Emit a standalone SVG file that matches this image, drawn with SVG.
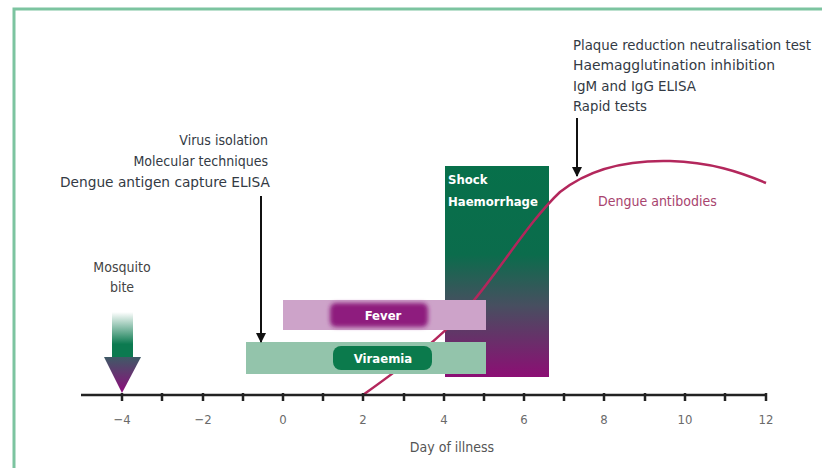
<svg xmlns="http://www.w3.org/2000/svg" width="822" height="468" viewBox="0 0 822 468">
<style>
.t{font-family:"DejaVu Sans Condensed","Liberation Sans",sans-serif;font-size:14px;fill:#333a44}
.ax{font-family:"DejaVu Sans Condensed","Liberation Sans",sans-serif;font-size:13px;fill:#6a6a6a;text-anchor:middle}
.w{font-family:"DejaVu Sans Condensed","Liberation Sans",sans-serif;font-size:13px;font-weight:bold;fill:#ffffff}
.tick{stroke:#222;stroke-width:2.5}
</style>
<defs>
<linearGradient id="shaft" x1="0" y1="0" x2="0" y2="1">
<stop offset="0" stop-color="#ffffff"/>
<stop offset="0.7" stop-color="#0c7a50"/>
<stop offset="1" stop-color="#0c7a50"/>
</linearGradient>
<linearGradient id="head" x1="0" y1="0" x2="0" y2="1">
<stop offset="0" stop-color="#3f5a66"/>
<stop offset="1" stop-color="#8e0c7c"/>
</linearGradient>
<linearGradient id="shock" x1="0" y1="0" x2="0" y2="1">
<stop offset="0" stop-color="#07704a"/>
<stop offset="0.42" stop-color="#0b6c4c"/>
<stop offset="0.66" stop-color="#474f60"/>
<stop offset="1" stop-color="#8c0e74"/>
</linearGradient>
<filter id="blur" x="-20%" y="-50%" width="140%" height="200%">
<feGaussianBlur stdDeviation="2.2"/>
</filter>
<marker id="ah" viewBox="0 0 10 10" refX="9" refY="5" markerWidth="5" markerHeight="5" orient="auto" markerUnits="strokeWidth">
<path d="M0,0 L10,5 L0,10 z" fill="#111"/>
</marker>
</defs>
<rect x="0" y="0" width="822" height="468" fill="#ffffff"/>
<path d="M14,468 L14,9 L822,9" fill="none" stroke="#7cc4a0" stroke-width="3"/>

<g id="shock-haemorrhage">
<rect x="445" y="166" width="104" height="211" fill="url(#shock)"/>
<text class="w" x="448" y="184">Shock</text>
<text class="w" x="448" y="206">Haemorrhage</text>
</g>

<g id="dengue-antibodies">
<path d="M363,395 C395,372 440,340 470,305 C500,270 530,220 560,192 C590,168 630,160 670,161 C710,162 740,172 766,183" fill="none" stroke="#b3275c" stroke-width="2.5"/>
<text x="598" y="206" style="font-family:'DejaVu Sans Condensed','Liberation Sans',sans-serif;font-size:14px;fill:#a8446e">Dengue antibodies</text>
</g>

<g id="fever">
<rect x="283" y="300" width="203" height="30" fill="#cda3c9"/>
<rect x="330" y="303" width="98" height="24" rx="6" fill="#8e1a7e" filter="url(#blur)"/>
<text class="w" x="383" y="320" text-anchor="middle">Fever</text>
</g>

<g id="viraemia">
<rect x="246" y="342" width="240" height="32" fill="#93c4ab"/>
<rect x="333" y="346" width="99" height="24" rx="8" fill="#0b7a4c"/>
<text class="w" x="383" y="363" text-anchor="middle">Viraemia</text>
</g>

<g id="mosquito-bite">
<text class="ax" x="122" y="272" style="fill:#444;font-size:14px">Mosquito</text>
<text class="ax" x="122" y="292" style="fill:#444;font-size:14px">bite</text>
<rect x="112" y="312" width="21" height="46" fill="url(#shaft)"/>
<polygon points="104,357 141,357 122,393" fill="url(#head)"/>
</g>

<g id="virus-tests">
<text class="t" x="268" y="145" text-anchor="end">Virus isolation</text>
<text class="t" x="268" y="166" text-anchor="end">Molecular techniques</text>
<text class="t" x="270" y="187" text-anchor="end" textLength="210" lengthAdjust="spacingAndGlyphs">Dengue antigen capture ELISA</text>
</g>

<g id="antibody-tests">
<text class="t" x="573" y="50" textLength="238" lengthAdjust="spacingAndGlyphs">Plaque reduction neutralisation test</text>
<text class="t" x="573" y="70" textLength="202" lengthAdjust="spacingAndGlyphs">Haemagglutination inhibition</text>
<text class="t" x="573" y="91" textLength="123" lengthAdjust="spacingAndGlyphs">IgM and IgG ELISA</text>
<text class="t" x="573" y="111" textLength="74" lengthAdjust="spacingAndGlyphs">Rapid tests</text>
</g>

<g id="connectors">
<line x1="261" y1="196" x2="261" y2="342" stroke="#111" stroke-width="2" marker-end="url(#ah)"/>
<line x1="577" y1="118" x2="577" y2="176" stroke="#111" stroke-width="2" marker-end="url(#ah)"/>
</g>

<g id="axis">
<line x1="81" y1="395" x2="767" y2="395" stroke="#222" stroke-width="2.5"/>
<g class="tick">
<line x1="122" y1="393" x2="122" y2="401"/><line x1="162" y1="393" x2="162" y2="401"/>
<line x1="203" y1="393" x2="203" y2="401"/><line x1="243" y1="393" x2="243" y2="401"/>
<line x1="283" y1="393" x2="283" y2="401"/><line x1="323" y1="393" x2="323" y2="401"/>
<line x1="363" y1="393" x2="363" y2="401"/><line x1="404" y1="393" x2="404" y2="401"/>
<line x1="444" y1="393" x2="444" y2="401"/><line x1="484" y1="393" x2="484" y2="401"/>
<line x1="524" y1="393" x2="524" y2="401"/><line x1="564" y1="393" x2="564" y2="401"/>
<line x1="604" y1="393" x2="604" y2="401"/><line x1="645" y1="393" x2="645" y2="401"/>
<line x1="685" y1="393" x2="685" y2="401"/><line x1="725" y1="393" x2="725" y2="401"/>
<line x1="766" y1="393" x2="766" y2="401"/>
</g>
<text class="ax" x="122" y="424">−4</text>
<text class="ax" x="203" y="424">−2</text>
<text class="ax" x="283" y="424">0</text>
<text class="ax" x="363" y="424">2</text>
<text class="ax" x="444" y="424">4</text>
<text class="ax" x="524" y="424">6</text>
<text class="ax" x="604" y="424">8</text>
<text class="ax" x="685" y="424">10</text>
<text class="ax" x="766" y="424">12</text>
<text class="ax" x="452" y="452" style="fill:#555;font-size:14px">Day of illness</text>
</g>
</svg>
